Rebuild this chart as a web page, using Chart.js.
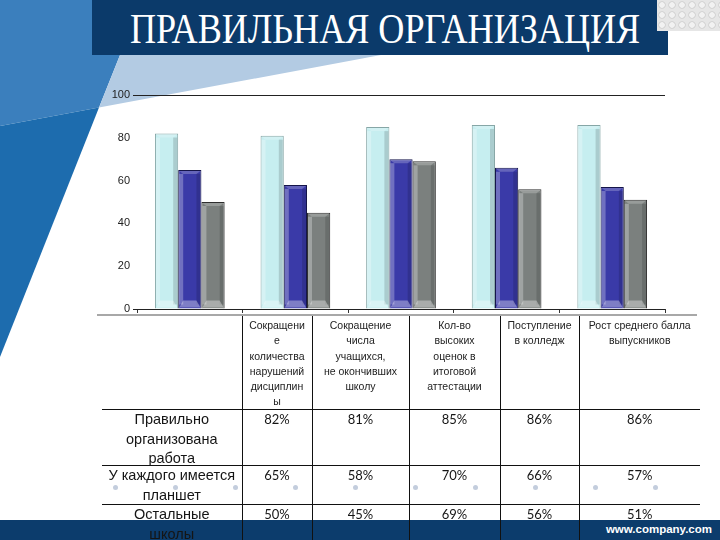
<!DOCTYPE html>
<html>
<head>
<meta charset="utf-8">
<script src="https://cdn.jsdelivr.net/npm/chart.js@4"></script>
<style>
  html, body { margin: 0; padding: 0; }
  body { width: 720px; height: 540px; position: relative; overflow: hidden; background: #fff; font-family: "Liberation Sans", Arial, sans-serif; }
  #deco { position: absolute; left: 0; top: 0; }
  #titlebar { position: absolute; left: 92px; top: 0; width: 576px; height: 55px; background: #0b3a6a; }
  #title { position: absolute; left: 130px; top: 4px; color: #fff; font-family: "Liberation Serif", "Times New Roman", serif; font-size: 42px; line-height: 50px; white-space: nowrap; transform-origin: 0 0; }
  #logo { position: absolute; left: 657px; top: 0; width: 63px; height: 31px;
    background: radial-gradient(circle at 50% 50%, #f2f2f2 35%, #cfcfcf 45%, #e6e6e6 60%) 0 0 / 10px 10px; }
  #chartbox { position: absolute; left: 95px; top: 85px; width: 580px; height: 235px; }
  #floor { position: absolute; left: 97px; top: 314px; width: 600px; height: 2px; background: #a8a8a8; }
  #footer { position: absolute; left: 0; top: 520px; width: 720px; height: 20px; background: #0c3c6c; }
  #url { position: absolute; right: 8px; top: 523px; color: #fff; font-weight: bold; font-size: 11.5px; }
  #tbl { position: absolute; left: 102px; top: 316px; border-collapse: collapse; table-layout: fixed; }
  #tbl td { padding: 0; text-align: center; vertical-align: top; color: #151515; }
  #tbl td > div { overflow: visible; white-space: nowrap; }
  #tbl td + td { border-left: 1px solid #111; }
  #tbl tr.body td { border-top: 1px solid #111; }
  #tbl td.head > div { font-size: 10.5px; line-height: 15.3px; padding-top: 2px; color: #222; }
  #tbl td.name > div { font-size: 14.5px; line-height: 19.5px; }
  #tbl td.val > div { font-family: Lato, "Open Sans", sans-serif; font-size: 13px; line-height: 19px; }
  .dot { position: absolute; width: 5px; height: 5px; border-radius: 50%; background: #c3cddd; top: 485px; }
</style>
</head>
<body>
<svg id="deco" width="720" height="540">
  <polygon points="0,0 130,0 120,55 99,107.6 0,126" fill="#3b7fbd"/>
  <polygon points="0,126 99,107.6 0,357" fill="#1d6cae"/>
  <polygon points="120,55 381,55 99,107.6" fill="#b3cbe3"/>
</svg>
<div id="titlebar"></div>
<div id="title">ПРАВИЛЬНАЯ ОРГАНИЗАЦИЯ</div>
<div id="logo"></div>
<div id="footer"></div>
<div id="url">www.company.com</div>
<div id="floor"></div>
<div id="chartbox"><canvas id="chart" width="580" height="235"></canvas></div>
<table id="tbl"></table>

<script>
// categories (table header, with the line breaks of the slide)
const categories = [
  ["Сокращени", "е", "количества", "нарушений", "дисциплин", "ы"],
  ["Сокращение", "числа", "учащихся,", "не окончивших", "школу"],
  ["Кол-во", "высоких", "оценок в", "итоговой", "аттестации"],
  ["Поступление", "в колледж"],
  ["Рост среднего балла", "выпускников"],
];
const seriesNames = [
  ["Правильно", "организована", "работа"],
  ["У каждого имеется", "планшет"],
  ["Остальные", "школы"],
];
const workValues = [82, 81, 85, 86, 86];
const tabletValues = [65, 58, 70, 66, 57];
const otherValues = [50, 45, 69, 56, 51];

const fills = ["#c6eef0", "#3a3aa8", "#7b807e"];
const edges = ["#86a6a6", "#15154a", "#2e2e2e"];

// title squeezed to the width on the slide
const title = document.getElementById("title");
title.style.transform = "scaleX(" + (510 / title.offsetWidth) + ")";

// table under the chart; cell content sits in fixed-height divs so rows keep the slide's heights
const colWidths = [140, 70, 97, 91, 79, 121];
const rowHeights = [91, 55, 38, 40];
const cell = (cls, h, txt) => '<td class="' + cls + '"><div style="height:' + h + 'px">' + txt + "</div></td>";
const tbl = document.getElementById("tbl");
let html = "<colgroup>" + colWidths.map(w => '<col style="width:' + w + 'px">').join("") + "</colgroup>";
html += "<tr>" + cell("head", rowHeights[0], "") + categories.map(c => cell("head", rowHeights[0], c.join("<br>"))).join("") + "</tr>";
[workValues, tabletValues, otherValues].forEach((vals, s) => {
  const h = rowHeights[s + 1];
  html += '<tr class="body">' + cell("name", h, seriesNames[s].join("<br>")) +
    vals.map(v => cell("val", h, v + "%")).join("") + "</tr>";
});
tbl.innerHTML = html;
tbl.style.width = colWidths.reduce((a, b) => a + b, 0) + "px";

// template dots
for (let i = 0; i < 10; i++) {
  const d = document.createElement("div");
  d.className = "dot";
  d.style.left = (113 + i * 60) + "px";
  document.body.appendChild(d);
}

// bevel look on the bars
const bevel = {
  id: "bevel",
  afterDatasetsDraw(chart) {
    const ctx = chart.ctx;
    chart.data.datasets.forEach((ds, di) => {
      chart.getDatasetMeta(di).data.forEach(bar => {
        const l = bar.x - bar.width / 2, r = bar.x + bar.width / 2;
        const t = bar.y, b = bar.base, e = 4;
        ctx.save();
        ctx.fillStyle = "rgba(255,255,255,0.28)";
        ctx.fillRect(l + 1, t + e, e, b - t - 2 * e);
        ctx.fillStyle = "rgba(0,0,0,0.14)";
        ctx.fillRect(r - 1 - e, t + e, e, b - t - 2 * e);
        ctx.beginPath();
        ctx.moveTo(l + 1, t + 1); ctx.lineTo(r - 1, t + 1); ctx.lineTo(r - 1 - e, t + e); ctx.lineTo(l + 1 + e, t + e);
        ctx.closePath();
        ctx.fillStyle = "rgba(255,255,255,0.22)";
        ctx.fill();
        ctx.beginPath();
        ctx.moveTo(l + 1 + e, b - 8); ctx.lineTo(r - 1 - e, b - 8); ctx.lineTo(r - 1, b - 1); ctx.lineTo(l + 1, b - 1);
        ctx.closePath();
        ctx.fillStyle = "rgba(255,255,255,0.35)";
        ctx.fill();
        ctx.restore();
      });
    });
  },
};

new Chart(document.getElementById("chart"), {
  type: "bar",
  data: {
    labels: categories.map(c => c.join("")),
    datasets: [workValues, tabletValues, otherValues].map((vals, i) => ({
      label: seriesNames[i].join(" "),
      data: vals,
      backgroundColor: fills[i],
      borderColor: edges[i],
      borderWidth: 1,
      barPercentage: 1,
      categoryPercentage: 0.66,
    })),
  },
  options: {
    responsive: false,
    animation: false,
    layout: { padding: { top: 10, right: 10, left: 0, bottom: 0 } },
    plugins: { legend: { display: false }, tooltip: { enabled: false } },
    scales: {
      x: {
        ticks: { display: false },
        grid: { offset: true, drawOnChartArea: false, drawTicks: true, tickLength: 4, color: "#333" },
        border: { display: false },
        afterFit: s => { s.height = 11; },
      },
      y: {
        min: 0,
        max: 100,
        ticks: { stepSize: 20, padding: 3, color: "#222", font: { family: "Liberation Sans", size: 11 } },
        grid: {
          tickLength: 4,
          color: c => (c.tick && (c.tick.value === 0 || c.tick.value === 100)) ? "#222" : "transparent",
        },
        border: { display: false },
        afterFit: s => { s.width = 42; },
      },
    },
  },
  plugins: [bevel],
});
</script>
</body>
</html>
